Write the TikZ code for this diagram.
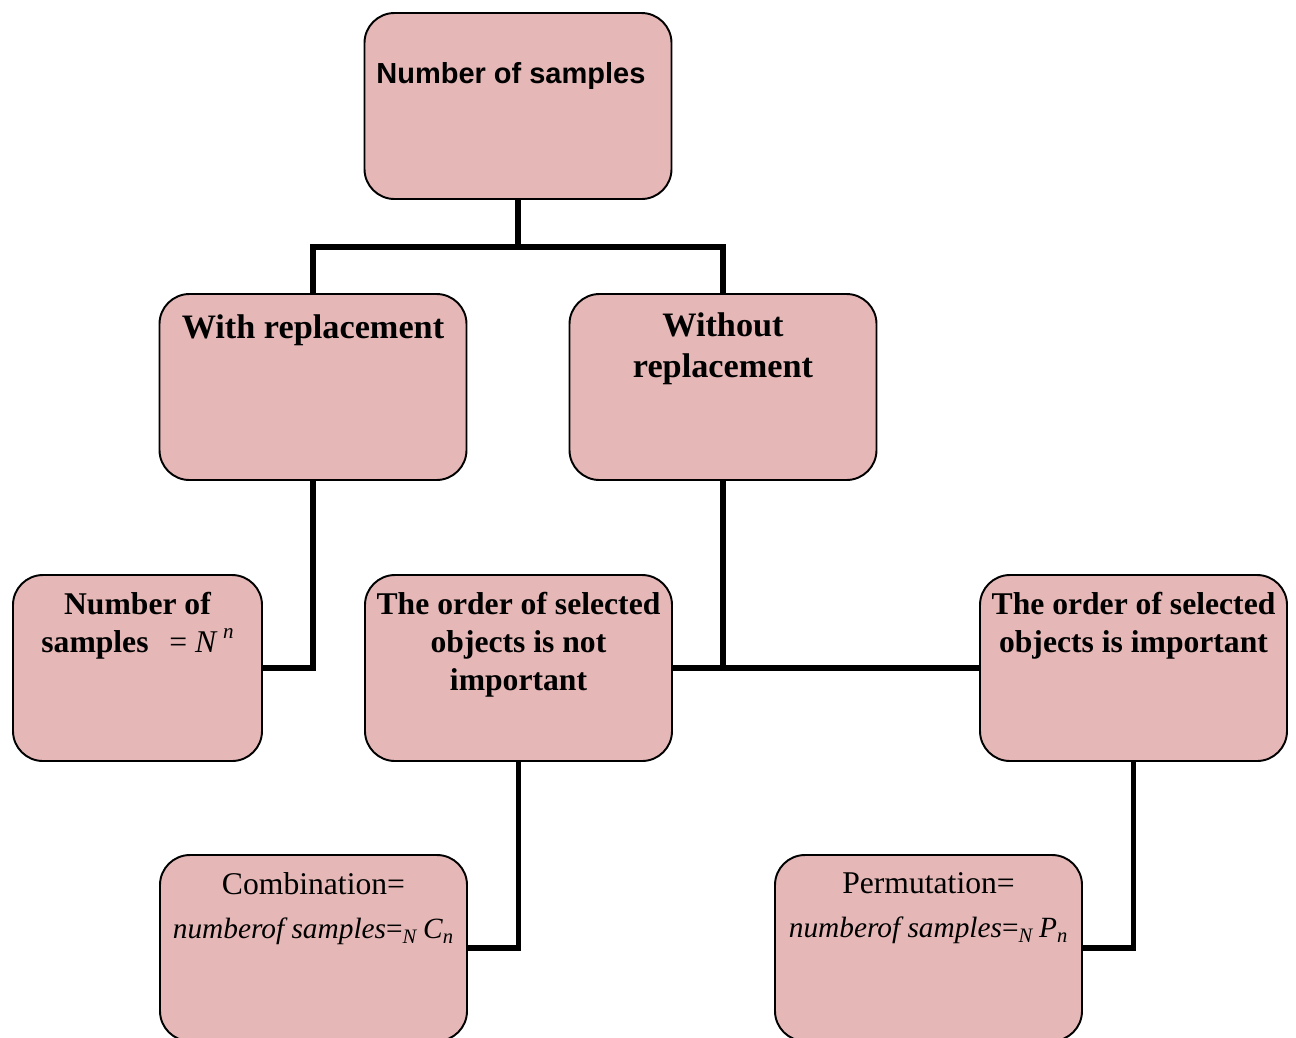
\documentclass[tikz,border=0pt]{standalone}
\usepackage{fontspec}
\setmainfont{Liberation Serif}
\newfontfamily\arialfont{Liberation Sans}
\usetikzlibrary{positioning}
\definecolor{boxpink}{HTML}{E5B8B7}

\begin{document}
\begin{tikzpicture}
		[box/.style={draw,fill=boxpink,rounded corners=0.6cm,line width=1.1pt,minimum width=6.14cm,minimum height=3.72cm},
		head/.style={inner sep=0pt,anchor=north,align=center,font=\fontsize{18}{21.5}\selectfont\bfseries},
		bighead/.style={head,font=\fontsize{19.5}{23}\selectfont\bfseries},
		plain/.style={inner sep=0pt,anchor=north,align=center,font=\fontsize{18}{22}\selectfont},
		link/.style={line width=3pt}]
		\useasboundingbox (0,0) rectangle (25.92,-20.74);
		
		\node[box] (top) at (10.36,-2.12) {};
		\node[box] (withR) at (6.26,-7.74) {};
		\node[box] (withoutR) at (14.46,-7.74) {};
		\node[box,minimum width=4.98cm] (numS) at (2.75,-13.36) {};
		\node[box] (notImp) at (10.37,-13.36) {};
		\node[box] (imp) at (22.67,-13.36) {};
		\node[box] (comb) at (6.27,-18.96) {};
		\node[box] (perm) at (18.57,-18.96) {};
		
		\node[inner sep=0pt,anchor=base west,font=\arialfont\fontsize{16.5}{20}\selectfont\bfseries] (topT) at (7.52,-1.67) {Number of samples};
		\node[bighead] (withRT) at (6.26,-6.28) {With replacement};
		\node[bighead] (withoutRT) at (14.46,-6.25) {Without\\replacement};
		\node[head] (numST) at (2.75,-11.84) {Number of\\samples \ \mdseries$\,$= \textit{N}\,\raisebox{0.45em}{\fontsize{12}{12}\selectfont\textit{n}}};
		\node[head] (notImpT) at (10.37,-11.84) {The order of selected\\objects is not\\important};
		\node[head] (impT) at (22.67,-11.84) {The order of selected\\objects is important};
		\node[plain] (combT) at (6.27,-17.45) {Combination=\\[0.1cm]{\fontsize{16.7}{20}\selectfont\textit{numberof samples}=\textsubscript{\textit{N}}\,\textit{C}\textsubscript{\textit{n}}}};
		\node[plain] (permT) at (18.57,-17.45) {Permutation=\\[0.1cm]{\fontsize{16.7}{20}\selectfont\textit{numberof samples}=\textsubscript{\textit{N}}\,\textit{P}\textsubscript{\textit{n}}}};
		
		\coordinate (split) at (10.36,-4.94);
		\coordinate (join) at (withoutR |- notImp);
		
		\draw[link] (top) -- (split);
		\draw[link] (withR.north) |- (split) -| (withoutR.north);
		\draw[link] (withR) |- (numS);
		\draw[link] (withoutR) -- (join);
		\draw[link] (notImp) -- (imp);
		\draw[link] (notImp) |- (comb);
		\draw[link] (imp) |- (perm);
		\end{tikzpicture}
\end{document}
